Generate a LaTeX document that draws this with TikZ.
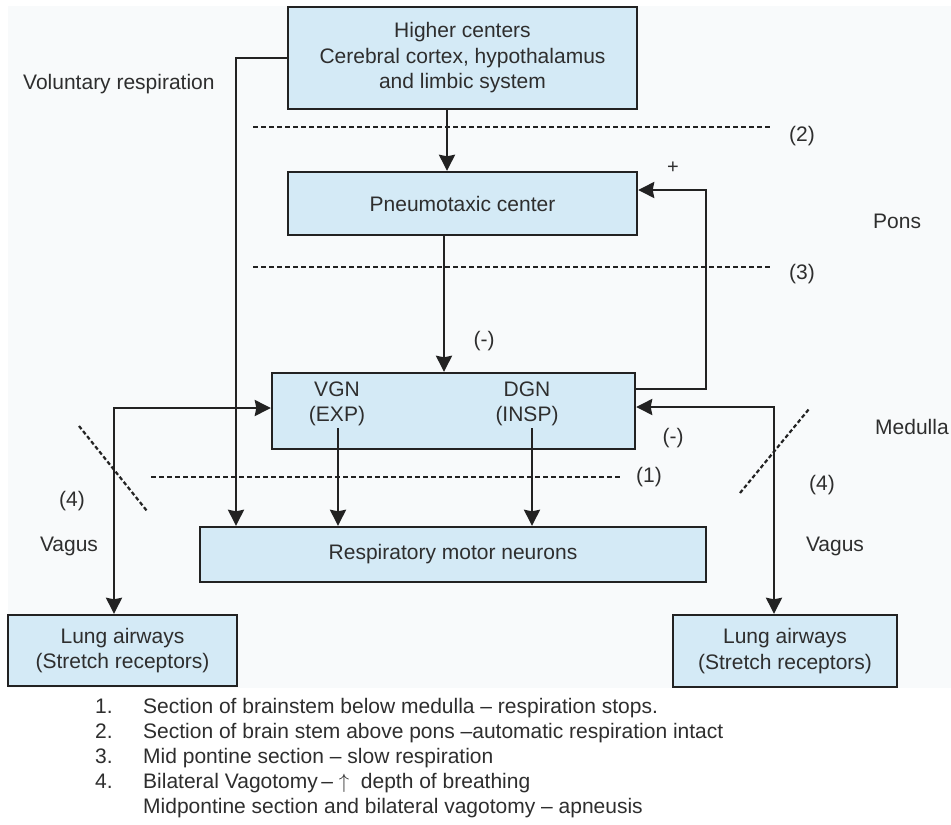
\documentclass[tikz,border=0pt]{standalone}
\usepackage{fontspec}
\setmainfont{Liberation Sans}
\usetikzlibrary{arrows.meta}

\definecolor{boxfill}{HTML}{D4EAF6}
\definecolor{ink}{HTML}{222222}
\definecolor{txt}{HTML}{2E2E2E}
\definecolor{paper}{HTML}{F8FAFB}

\begin{document}
\begin{tikzpicture}[x=1pt,y=-1pt,
  font=\fontsize{21}{25.5}\selectfont,
  every node/.style={text=txt},
  box/.style={draw=ink, line width=2.4pt, fill=boxfill, rectangle, inner sep=0pt, align=center},
  lbl/.style={inner sep=0pt},
  link/.style={draw=ink, line width=2.4pt},
  arr/.style={link, -{Stealth[length=16pt,width=16pt,inset=1.5pt]}},
  dblarr/.style={link, {Stealth[length=16pt,width=16pt,inset=1.5pt]}-{Stealth[length=16pt,width=16pt,inset=1.5pt]}},
  cut/.style={draw=ink, line width=2.2pt, dash pattern=on 5pt off 3pt},
  diagcut/.style={draw=ink, line width=2.2pt, dash pattern=on 4pt off 2.5pt},
  listline/.style={anchor=base west, inner sep=0pt}
]
% page and paper tint
\useasboundingbox (0,0) rectangle (951,825);
\fill[white] (0,0) rectangle (951,825);
\fill[paper] (8,6) rectangle (951,688);

% boxes
\node[box, minimum width=349pt, minimum height=102pt] (higher) at (462.5,58)
  {Higher centers\\Cerebral cortex, hypothalamus\\and limbic system};
\node[box, minimum width=349pt, minimum height=63pt] (pneumo) at (462.5,203.5)
  {Pneumotaxic center};
\node[box, minimum width=363pt, minimum height=76pt] (vd) at (453.5,411) {};
\node[lbl, align=center] (vgn) at (337,404) {VGN\\(EXP)};
\node[lbl, align=center] (dgn) at (527,404) {DGN\\(INSP)};
\node[box, minimum width=506pt, minimum height=55pt] (motor) at (453,554.5)
  {Respiratory motor neurons};
\node[box, minimum width=229pt, minimum height=71pt] (lungL) at (122.5,650.5)
  {Lung airways\\(Stretch receptors)};
\node[box, minimum width=224pt, minimum height=72pt] (lungR) at (785,651)
  {Lung airways\\(Stretch receptors)};

% section lines
\draw[cut] (253,127) -- (772,127);
\draw[cut] (253,267) -- (772,267);
\draw[cut] (151,477) -- (622,477);
\draw[diagcut] (79,426) -- (147,511);
\draw[diagcut] (740,493) -- (809,409);

% connectors
\draw[arr] (447,0 |- higher.south) -- (447,0 |- pneumo.north);
\draw[arr] (444,0 |- pneumo.south) -- (444,0 |- vd.north);
\draw[arr] (higher.west) -| (236,0 |- motor.north);
\coordinate (fb) at (706,190);
\draw[arr] (vd.east |- 0,389) -| (fb) -- (pneumo.east |- fb);
\draw[arr] (338,428) -- (338,0 |- motor.north);
\draw[arr] (532,428) -- (532,0 |- motor.north);
\coordinate (vl) at (114,408);
\coordinate (vr) at (774,407);
\draw[dblarr] (vd.west |- vl) -- (vl) -- (vl |- lungL.north);
\draw[dblarr] (vd.east |- vr) -- (vr) -- (vr |- lungR.north);

% labels
\node[lbl, anchor=base west] (vol) at (23,89) {Voluntary respiration};
\node[lbl] (c2) at (802,136) {(2)};
\node[lbl] (c3) at (802,274) {(3)};
\node[lbl] (c1) at (649,477) {(1)};
\node[lbl] (plus) at (673,168) {\fontsize{20}{20}\selectfont +};
\node[lbl, anchor=base west] (pons) at (873,228) {Pons};
\node[lbl, anchor=base west] (med) at (875,434) {Medulla};
\node[lbl] (neg1) at (484,341) {(-)};
\node[lbl] (neg2) at (673,438) {(-)};
\node[lbl] (c4l) at (72,501) {(4)};
\node[lbl, anchor=base] (vagl) at (69,551) {Vagus};
\node[lbl] (c4r) at (822,485) {(4)};
\node[lbl, anchor=base] (vagr) at (835,551) {Vagus};

% notes
\node[listline] (n1) at (95,713) {1.};
\node[listline] (t1) at (143,713) {Section of brainstem below medulla -- respiration stops.};
\node[listline] (n2) at (95,738.2) {2.};
\node[listline] (t2) at (143,738.2) {Section of brain stem above pons --automatic respiration intact};
\node[listline] (n3) at (95,763.4) {3.};
\node[listline] (t3) at (143,763.4) {Mid pontine section -- slow respiration};
\node[listline] (n4) at (95,788.6) {4.};
\node[listline] (t4) at (143,788.6) {Bilateral Vagotomy\,-- $\uparrow$\ \ depth of breathing};
\node[listline] (t5) at (143,813.8) {Midpontine section and bilateral vagotomy -- apneusis};
\end{tikzpicture}
\end{document}
